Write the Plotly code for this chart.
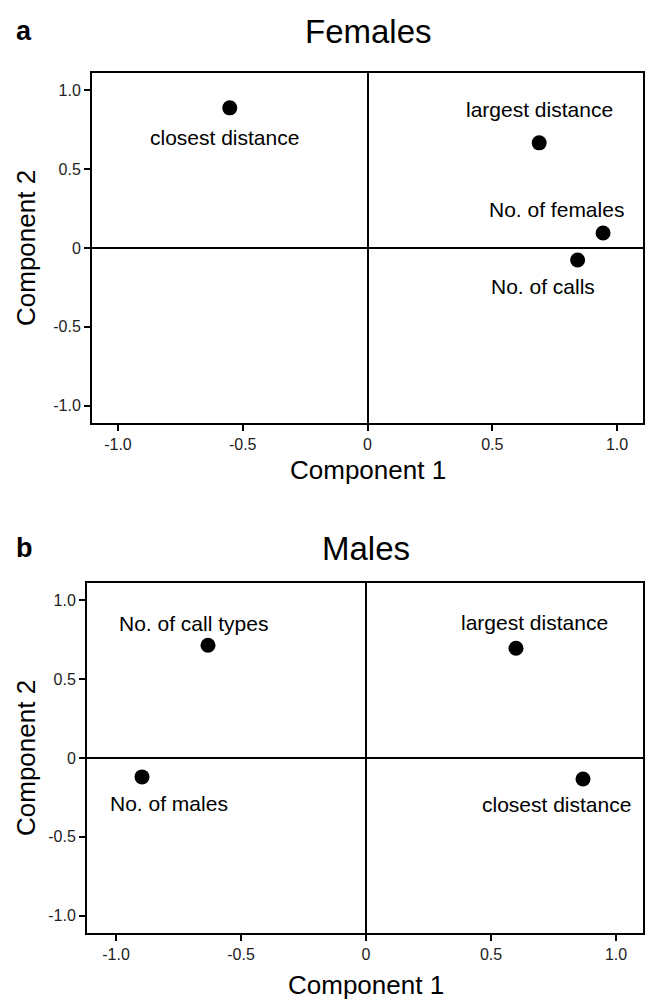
import plotly.graph_objects as go

# Panel a: Females
fem_labels = ["closest distance", "largest distance", "No. of females", "No. of calls"]
fem_c1 = [-0.552, 0.688, 0.944, 0.842]
fem_c2 = [0.889, 0.667, 0.095, -0.076]

# Panel b: Males
male_labels = ["No. of call types", "No. of males", "largest distance", "closest distance"]
male_c1 = [-0.632, -0.896, 0.60, 0.868]
male_c2 = [0.715, -0.120, 0.696, -0.133]

tick_vals = [-1.0, -0.5, 0, 0.5, 1.0]
tick_text = ["-1.0", "-0.5", "0", "0.5", "1.0"]

# label offsets in pixels (x right, y up)
fem_off = [(-5, -30), (0, 33), (-47, 24), (-35, -27)]
male_off = [(-15, 22), (27, -27), (18, 26), (-27, -26)]

FONT = "Liberation Sans, Arial, sans-serif"
W, H = 646, 1000

fig = go.Figure()
fig.add_trace(go.Scatter(x=fem_c1, y=fem_c2, mode="markers", xaxis="x", yaxis="y",
                         marker=dict(size=15, color="black"), showlegend=False, hoverinfo="skip"))
fig.add_trace(go.Scatter(x=male_c1, y=male_c2, mode="markers", xaxis="x2", yaxis="y2",
                         marker=dict(size=15, color="black"), showlegend=False, hoverinfo="skip"))

ann = []
for lab, x, y, (dx, dy) in zip(fem_labels, fem_c1, fem_c2, fem_off):
    ann.append(dict(x=x, y=y, xref="x", yref="y", text=lab, showarrow=False,
                    xanchor="center", yanchor="middle",
                    xshift=dx, yshift=dy, font=dict(size=21, color="black", family=FONT)))
for lab, x, y, (dx, dy) in zip(male_labels, male_c1, male_c2, male_off):
    ann.append(dict(x=x, y=y, xref="x2", yref="y2", text=lab, showarrow=False,
                    xanchor="center", yanchor="middle",
                    xshift=dx, yshift=dy, font=dict(size=21, color="black", family=FONT)))

def px(xp):
    return xp / W
def py(yp):
    return 1 - yp / H

def txt(x, y, text, size, angle=0):
    return dict(x=px(x), y=py(y), xref="paper", yref="paper", text=text, showarrow=False,
                xanchor="center", yanchor="middle", textangle=angle,
                font=dict(size=size, color="black", family=FONT))

ann += [
    txt(368, 31, "Females", 33),
    txt(24, 31, "<b>a</b>", 27),
    txt(366, 548, "Males", 33),
    txt(24, 548, "<b>b</b>", 27),
    txt(368, 470, "Component 1", 26),
    txt(366, 985, "Component 1", 26),
    txt(26, 248, "Component 2", 26, -90),
    txt(26, 758, "Component 2", 26, -90),
]

axis_common = dict(showgrid=False, zeroline=True, zerolinecolor="black", zerolinewidth=2,
                   showline=True, linecolor="black", linewidth=2, mirror=True,
                   ticks="outside", ticklen=6, tickwidth=2, tickcolor="black",
                   tickvals=tick_vals, ticktext=tick_text,
                   tickfont=dict(size=16, color="#222", family=FONT))

fig.update_layout(
    width=W, height=H, margin=dict(l=0, r=0, t=0, b=0),
    paper_bgcolor="white", plot_bgcolor="white",
    xaxis=dict(domain=[px(92), px(643)], range=[-1.104, 1.104], anchor="y", **axis_common),
    yaxis=dict(domain=[py(423), py(73)], range=[-1.11, 1.11], anchor="x", **axis_common),
    xaxis2=dict(domain=[px(87), px(643)], range=[-1.116, 1.108], anchor="y2", **axis_common),
    yaxis2=dict(domain=[py(933), py(583)], range=[-1.11, 1.11], anchor="x2", **axis_common),
    annotations=ann,
)

fig.write_html("out.html", config={"displayModeBar": False},
               post_script="document.body.style.margin='0';")
